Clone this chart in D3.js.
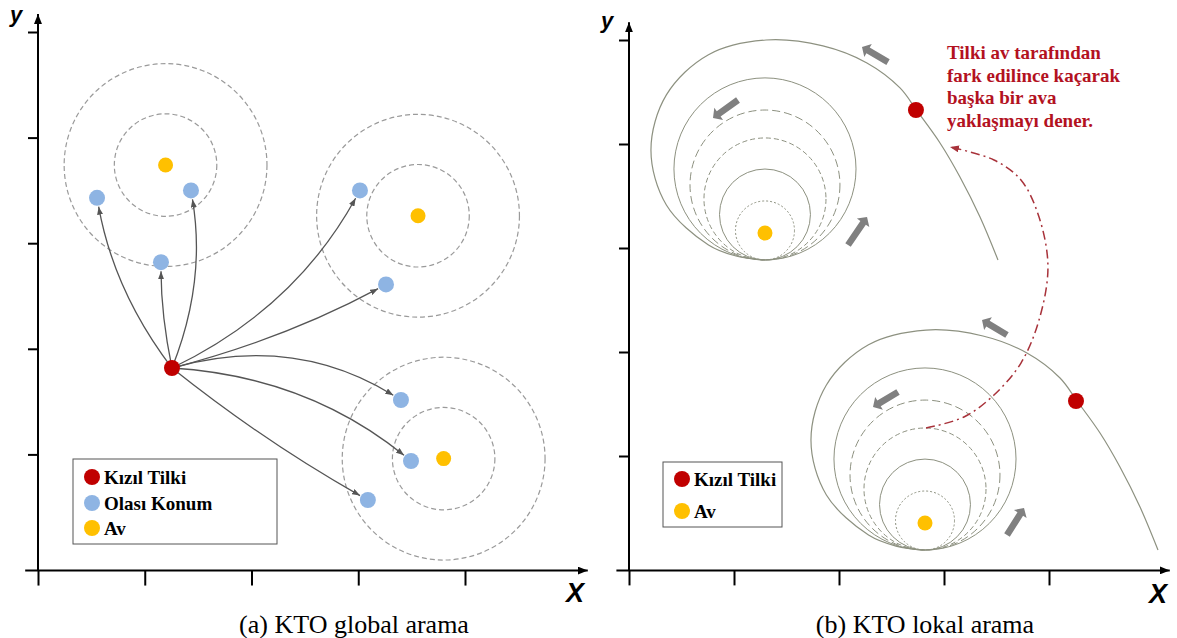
<!DOCTYPE html>
<html>
<head>
<meta charset="utf-8">
<script src="https://cdn.jsdelivr.net/npm/d3@7"></script>
<style>
  body { margin: 0; background: #fff; }
  .serif { font-family: "Liberation Serif", "Times New Roman", serif; }
  .axlab { font-family: "Liberation Sans", Arial, sans-serif; font-weight: bold; font-style: italic; }
</style>
</head>
<body>
<svg width="1177" height="638"></svg>
<script>
const xTicks = [0, 1, 2, 3, 4];
const yTicks = [1, 2, 3, 4, 5];

// (a) global search
const preyA = [[1.195, 3.74], [3.56, 3.26], [3.80, 0.96]];
const ringRadiiA = [0.48, 0.95];
const candidatesA = [[0.553, 3.43], [1.433, 3.50], [1.152, 2.82], [3.016, 3.50],
                     [3.26, 2.61], [3.40, 1.515], [3.494, 0.9375], [3.09, 0.568]];
const arrowBendA = [-0.12, 0.14, -0.05, 0.16, 0.06, -0.22, -0.16, 0.04];
const foxA = [1.255, 1.818];
const legendA = ["Kızıl Tilki", "Olası Konum", "Av"];

// (b) local search
const tangentB = [[1.295, 2.885], [2.819, 0.096]];
const preyB = [[1.295, 3.144], [2.819, 0.356]];
const ringRadiiB = [0.867, 0.714, 0.581, 0.433, 0.281];
const spiralOffsets = [[0, 0], [-0.276, 0.038], [-0.538, 0.144], [-0.939, 0.529], [-1.086, 1.058],
                       [-0.939, 1.587], [-0.538, 1.974], [0.010, 2.115], [0.552, 2.058], [0.971, 1.894],
                       [1.286, 1.654], [1.448, 1.433], [1.667, 1.125], [1.857, 0.798], [2.048, 0.413],
                       [2.219, 0]];
const foxB = [[2.733, 4.327], [4.257, 1.529]];
const escapePath = [[2.829, 1.269], [3.190, 1.375], [3.476, 1.587], [3.733, 1.894], [3.905, 2.308],
                    [3.990, 2.817], [3.905, 3.298], [3.733, 3.654], [3.476, 3.846], [3.057, 3.971]];
const moveArrows = [[[2.467, 4.788], [2.219, 4.933]], [[1.038, 4.423], [0.80, 4.25]],
                    [[2.086, 3.029], [2.267, 3.298]], [[3.60, 2.163], [3.362, 2.308]],
                    [[2.562, 1.615], [2.324, 1.471]], [[3.60, 0.240], [3.762, 0.50]]];
const legendB = ["Kızıl Tilki", "Av"];
const noteLines = ["Tilki av tarafından", "fark edilince kaçarak", "başka bir ava", "yaklaşmayı dener."];
const captions = ["(a) KTO global arama", "(b) KTO lokal arama"];

const RED = "#c00000", BLUE = "#8eb4e3", GOLD = "#ffc000";
const ringDash = [null, "8,4", "5,3", null, "2,2"];

const svg = d3.select("svg");
svg.append("rect").attr("width", 1177).attr("height", 638).attr("fill", "#fff");

const defs = svg.append("defs");
function marker(id, color, w, h) {
  defs.append("marker").attr("id", id).attr("viewBox", `0 ${-h} ${w} ${2 * h}`)
    .attr("refX", w).attr("refY", 0).attr("markerUnits", "userSpaceOnUse")
    .attr("markerWidth", w).attr("markerHeight", 2 * h).attr("orient", "auto")
    .append("path").attr("d", `M0,${-h}L${w},0L0,${h}Z`).attr("fill", color);
}
marker("axArrow", "#000", 10, 4);
marker("grayArrow", "#555", 8, 3);
marker("redArrow", "#a8323a", 9, 3.5);

const xA = d3.scaleLinear().domain([0, 4]).range([38, 465]);
const yA = d3.scaleLinear().domain([0, 5]).range([560, 32]);
const xB = d3.scaleLinear().domain([0, 4]).range([629, 1049]);
const yB = d3.scaleLinear().domain([0, 5]).range([560, 40]);

function drawAxes(x, y, ylab, xlab) {
  const g = svg.append("g");
  const base = y(-0.1);
  g.append("g").attr("transform", `translate(${x(0)},0)`)
    .call(d3.axisLeft(y).tickValues(yTicks).tickSize(10).tickFormat(""))
    .call(a => a.select(".domain").remove());
  g.append("g").attr("transform", `translate(0,${base})`)
    .call(d3.axisBottom(x).tickValues(xTicks).tickSize(15).tickFormat(""))
    .call(a => a.select(".domain").remove());
  g.selectAll(".tick line").attr("stroke", "#000").attr("stroke-width", 2);
  g.append("line").attr("x1", x(0)).attr("x2", x(0)).attr("y1", base).attr("y2", y(5.17))
    .attr("stroke", "#000").attr("stroke-width", 2).attr("marker-end", "url(#axArrow)");
  g.append("line").attr("x1", x(-0.12)).attr("x2", x(5.15)).attr("y1", base).attr("y2", base)
    .attr("stroke", "#000").attr("stroke-width", 2).attr("marker-end", "url(#axArrow)");
  g.append("text").attr("class", "axlab").attr("x", ylab[0]).attr("y", ylab[1])
    .attr("font-size", 22).text("y");
  g.append("text").attr("class", "axlab").attr("x", xlab[0]).attr("y", xlab[1])
    .attr("font-size", 27).text("X");
}
drawAxes(xA, yA, [10, 22], [566, 602]);
drawAxes(xB, yB, [601, 28], [1149, 603]);

// ---- panel (a)
const gA = svg.append("g");
preyA.forEach(p => {
  gA.selectAll(null).data(ringRadiiA).enter().append("circle")
    .attr("cx", xA(p[0])).attr("cy", yA(p[1]))
    .attr("r", r => xA(r) - xA(0))
    .attr("fill", "none").attr("stroke", "#9a9a9a").attr("stroke-width", 1.2)
    .attr("stroke-dasharray", "5,3");
});

function bentPath(s, t, bend, gap) {
  const dx = t[0] - s[0], dy = t[1] - s[1], len = Math.hypot(dx, dy);
  const c = [(s[0] + t[0]) / 2 - dy / len * bend * len, (s[1] + t[1]) / 2 + dx / len * bend * len];
  const vx = t[0] - c[0], vy = t[1] - c[1], vl = Math.hypot(vx, vy);
  const e = [t[0] - vx / vl * gap, t[1] - vy / vl * gap];
  return `M${s[0]},${s[1]}Q${c[0]},${c[1]} ${e[0]},${e[1]}`;
}
const foxPx = [xA(foxA[0]), yA(foxA[1])];
gA.selectAll(".mv").data(candidatesA).enter().append("path")
  .attr("d", (d, i) => bentPath(foxPx, [xA(d[0]), yA(d[1])], arrowBendA[i], 9))
  .attr("fill", "none").attr("stroke", "#555").attr("stroke-width", 1.3)
  .attr("marker-end", "url(#grayArrow)");

gA.selectAll(".prey").data(preyA).enter().append("circle")
  .attr("cx", d => xA(d[0])).attr("cy", d => yA(d[1])).attr("r", 7.5).attr("fill", GOLD);
gA.selectAll(".cand").data(candidatesA).enter().append("circle")
  .attr("cx", d => xA(d[0])).attr("cy", d => yA(d[1])).attr("r", 8).attr("fill", BLUE);
gA.append("circle").attr("cx", foxPx[0]).attr("cy", foxPx[1]).attr("r", 8).attr("fill", RED);

function legend(x0, y0, w, h, items, colors, rows) {
  const g = svg.append("g");
  g.append("rect").attr("x", x0).attr("y", y0).attr("width", w).attr("height", h)
    .attr("fill", "#fff").attr("stroke", "#555").attr("stroke-width", 1);
  items.forEach((t, i) => {
    g.append("circle").attr("cx", x0 + 19).attr("cy", rows[i]).attr("r", 8).attr("fill", colors[i]);
    g.append("text").attr("class", "serif").attr("x", x0 + 31).attr("y", rows[i] + 6.5)
      .attr("font-size", 19).attr("font-weight", "bold").text(t);
  });
}
legend(73, 459, 204, 85, legendA, [RED, BLUE, GOLD], [477, 503, 528]);

// ---- panel (b)
const gB = svg.append("g");
const spiralLine = d3.line().x(d => xB(d[0])).y(d => yB(d[1])).curve(d3.curveCatmullRom);
tangentB.forEach((b, k) => {
  ringRadiiB.forEach((r, i) => {
    const rp = xB(r) - xB(0);
    gB.append("circle").attr("cx", xB(b[0])).attr("cy", yB(b[1]) - rp).attr("r", rp)
      .attr("fill", "none").attr("stroke", "#8d9180").attr("stroke-width", 1)
      .attr("stroke-dasharray", ringDash[i]);
  });
  gB.append("path").attr("d", spiralLine(spiralOffsets.map(o => [b[0] + o[0], b[1] + o[1]])))
    .attr("fill", "none").attr("stroke", "#8d9180").attr("stroke-width", 1.2);
});

gB.append("path").attr("d", spiralLine(escapePath))
  .attr("fill", "none").attr("stroke", "#a8323a").attr("stroke-width", 1.5)
  .attr("stroke-dasharray", "9,4,2,4").attr("marker-end", "url(#redArrow)");

function blockArrow(t, h) {
  const dx = h[0] - t[0], dy = h[1] - t[1], L = Math.hypot(dx, dy);
  const ux = dx / L, uy = dy / L, nx = -uy, ny = ux;
  const w = 3.3, hw = 7.5, hl = 7;
  const b = [h[0] - ux * hl, h[1] - uy * hl];
  const pts = [[t[0] + nx * w, t[1] + ny * w], [b[0] + nx * w, b[1] + ny * w], [b[0] + nx * hw, b[1] + ny * hw],
               h, [b[0] - nx * hw, b[1] - ny * hw], [b[0] - nx * w, b[1] - ny * w], [t[0] - nx * w, t[1] - ny * w]];
  return "M" + pts.map(p => p.join(",")).join("L") + "Z";
}
gB.selectAll(".blk").data(moveArrows).enter().append("path")
  .attr("d", d => blockArrow([xB(d[0][0]), yB(d[0][1])], [xB(d[1][0]), yB(d[1][1])]))
  .attr("fill", "#808080");

gB.selectAll(".prey").data(preyB).enter().append("circle")
  .attr("cx", d => xB(d[0])).attr("cy", d => yB(d[1])).attr("r", 7.5).attr("fill", GOLD);
gB.selectAll(".fox").data(foxB).enter().append("circle")
  .attr("cx", d => xB(d[0])).attr("cy", d => yB(d[1])).attr("r", 8).attr("fill", RED);

svg.append("g").selectAll("text").data(noteLines).enter().append("text")
  .attr("class", "serif").attr("x", 947).attr("y", (d, i) => 59 + i * 22.7)
  .attr("font-size", 19).attr("font-weight", "bold").attr("fill", "#b3121f").text(d => d);

legend(663, 462, 119, 65, legendB, [RED, GOLD], [479, 511]);

// captions
svg.selectAll(".cap").data(captions).enter().append("text")
  .attr("class", "serif").attr("x", (d, i) => [354, 925][i]).attr("y", 633)
  .attr("text-anchor", "middle").attr("font-size", 26).text(d => d);
</script>
</body>
</html>
